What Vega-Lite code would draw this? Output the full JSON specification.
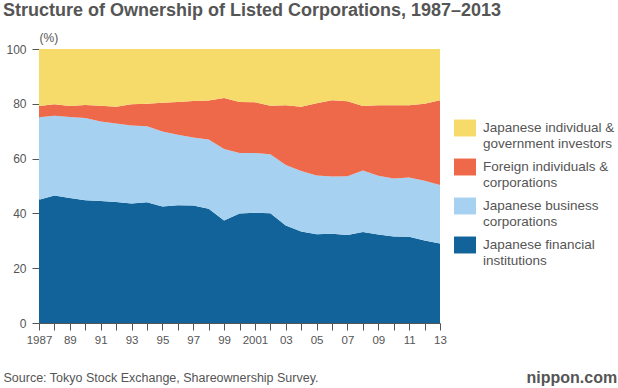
{
  "$schema": "https://vega.github.io/schema/vega-lite/v6.json",
  "autosize": "none",
  "width": 401,
  "height": 274,
  "padding": {"left": 39, "top": 49, "right": 178, "bottom": 65},
  "background": "white",
  "config": {"view": {"stroke": null}, "font": "Liberation Sans"},
  "title": {
    "text": "Structure of Ownership of Listed Corporations, 1987–2013",
    "anchor": "start",
    "frame": "group",
    "dx": -36,
    "fontSize": 18,
    "fontWeight": "bold",
    "color": "#555555",
    "offset": 11
  },
  "data": {
    "values": [
      {"year": 1987, "1_financial": 45.0, "2_business": 30.1, "3_foreign": 4.1, "4_individual": 20.8},
      {"year": 1988, "1_financial": 46.5, "2_business": 29.1, "3_foreign": 4.2, "4_individual": 20.2},
      {"year": 1989, "1_financial": 45.6, "2_business": 29.6, "3_foreign": 4.0, "4_individual": 20.8},
      {"year": 1990, "1_financial": 44.8, "2_business": 30.0, "3_foreign": 4.8, "4_individual": 20.4},
      {"year": 1991, "1_financial": 44.5, "2_business": 29.0, "3_foreign": 5.8, "4_individual": 20.7},
      {"year": 1992, "1_financial": 44.2, "2_business": 28.6, "3_foreign": 6.1, "4_individual": 21.1},
      {"year": 1993, "1_financial": 43.6, "2_business": 28.5, "3_foreign": 7.7, "4_individual": 20.2},
      {"year": 1994, "1_financial": 44.1, "2_business": 27.7, "3_foreign": 8.2, "4_individual": 20.0},
      {"year": 1995, "1_financial": 42.5, "2_business": 27.4, "3_foreign": 10.5, "4_individual": 19.6},
      {"year": 1996, "1_financial": 43.0, "2_business": 25.7, "3_foreign": 12.0, "4_individual": 19.3},
      {"year": 1997, "1_financial": 42.9, "2_business": 24.8, "3_foreign": 13.3, "4_individual": 19.0},
      {"year": 1998, "1_financial": 41.7, "2_business": 25.3, "3_foreign": 14.2, "4_individual": 18.8},
      {"year": 1999, "1_financial": 37.4, "2_business": 26.1, "3_foreign": 18.6, "4_individual": 17.9},
      {"year": 2000, "1_financial": 40.0, "2_business": 22.0, "3_foreign": 18.7, "4_individual": 19.3},
      {"year": 2001, "1_financial": 40.2, "2_business": 21.8, "3_foreign": 18.6, "4_individual": 19.4},
      {"year": 2002, "1_financial": 40.1, "2_business": 21.5, "3_foreign": 17.7, "4_individual": 20.7},
      {"year": 2003, "1_financial": 35.6, "2_business": 22.1, "3_foreign": 21.8, "4_individual": 20.5},
      {"year": 2004, "1_financial": 33.4, "2_business": 22.1, "3_foreign": 23.4, "4_individual": 21.1},
      {"year": 2005, "1_financial": 32.4, "2_business": 21.4, "3_foreign": 26.4, "4_individual": 19.8},
      {"year": 2006, "1_financial": 32.6, "2_business": 20.9, "3_foreign": 27.8, "4_individual": 18.7},
      {"year": 2007, "1_financial": 32.1, "2_business": 21.5, "3_foreign": 27.3, "4_individual": 19.1},
      {"year": 2008, "1_financial": 33.2, "2_business": 22.5, "3_foreign": 23.5, "4_individual": 20.8},
      {"year": 2009, "1_financial": 32.3, "2_business": 21.4, "3_foreign": 25.8, "4_individual": 20.5},
      {"year": 2010, "1_financial": 31.6, "2_business": 21.1, "3_foreign": 26.8, "4_individual": 20.5},
      {"year": 2011, "1_financial": 31.5, "2_business": 21.6, "3_foreign": 26.4, "4_individual": 20.5},
      {"year": 2012, "1_financial": 30.1, "2_business": 21.8, "3_foreign": 28.1, "4_individual": 20.0},
      {"year": 2013, "1_financial": 29.0, "2_business": 21.4, "3_foreign": 30.9, "4_individual": 18.7}
    ]
  },
  "layer": [
    {
      "transform": [
        {"fold": ["1_financial", "2_business", "3_foreign", "4_individual"], "as": ["group", "share"]}
      ],
      "mark": {"type": "area", "interpolate": "linear", "opacity": 1},
      "encoding": {
        "x": {
          "field": "year",
          "type": "quantitative",
          "scale": {"domain": [1987, 2013], "nice": false, "zero": false},
          "axis": {
            "values": [1987, 1988, 1989, 1990, 1991, 1992, 1993, 1994, 1995, 1996, 1997, 1998, 1999, 2000, 2001, 2002, 2003, 2004, 2005, 2006, 2007, 2008, 2009, 2010, 2011, 2012, 2013],
            "labelExpr": "datum.value == 1987 || datum.value == 2001 ? '' + datum.value : (datum.value % 2 == 1 ? slice('' + datum.value, 2) : '')",
            "labelOverlap": false,
            "labelFlush": false,
            "labelFontSize": 11.5,
            "labelColor": "#555555",
            "labelPadding": 4,
            "tickSize": 7,
            "tickColor": "#555555",
            "domainColor": "#555555",
            "grid": false,
            "title": "Source: Tokyo Stock Exchange, Shareownership Survey.",
            "titleX": -36,
            "titleY": 54,
            "titleAlign": "left",
            "titleBaseline": "middle",
            "titleFontSize": 12.5,
            "titleFontWeight": "normal",
            "titleColor": "#555555"
          }
        },
        "y": {
          "field": "share",
          "type": "quantitative",
          "stack": "zero",
          "scale": {"domain": [0, 100], "nice": false},
          "axis": {
            "values": [0, 20, 40, 60, 80, 100],
            "labelFontSize": 12,
            "labelColor": "#555555",
            "labelPadding": 6,
            "tickSize": 7,
            "tickColor": "#555555",
            "domainColor": "#555555",
            "grid": false,
            "title": "(%)",
            "titleAngle": 0,
            "titleX": 0,
            "titleY": -12,
            "titleAlign": "left",
            "titleBaseline": "middle",
            "titleFontSize": 12,
            "titleFontWeight": "normal",
            "titleColor": "#555555"
          }
        },
        "color": {
          "field": "group",
          "type": "nominal",
          "scale": {
            "domain": ["4_individual", "3_foreign", "2_business", "1_financial"],
            "range": ["#F6DB6B", "#EE684A", "#A6D1F1", "#126399"]
          },
          "legend": {
            "orient": "none",
            "legendX": 415,
            "legendY": 68,
            "title": null,
            "symbolType": "M-1,-0.77H1V0.77H-1Z",
            "symbolSize": 484,
            "symbolStrokeWidth": 0,
            "symbolOpacity": 1,
            "labelFontSize": 13.5,
            "labelColor": "#555555",
            "labelOffset": 7,
            "labelLimit": 200,
            "rowPadding": 6,
            "labelExpr": "{'4_individual': ['Japanese individual &', 'government investors'], '3_foreign': ['Foreign individuals &', 'corporations'], '2_business': ['Japanese business', 'corporations'], '1_financial': ['Japanese financial', 'institutions']}[datum.label]"
          }
        },
        "order": {"field": "group", "sort": "ascending"}
      }
    },
    {
      "data": {"values": [{"v": 0}]},
      "mark": {"type": "rule", "opacity": 0},
      "encoding": {
        "y": {
          "field": "v",
          "type": "quantitative",
          "scale": {"domain": [0, 100]},
          "axis": {
            "orient": "right",
            "domain": false,
            "ticks": false,
            "labels": false,
            "grid": false,
            "title": "nippon.com",
            "titleAngle": 0,
            "titleX": 86,
            "titleY": 328,
            "titleAlign": "left",
            "titleBaseline": "middle",
            "titleFontSize": 16,
            "titleFontWeight": "bold",
            "titleColor": "#555555"
          }
        }
      }
    }
  ],
  "resolve": {"scale": {"y": "independent"}}
}
